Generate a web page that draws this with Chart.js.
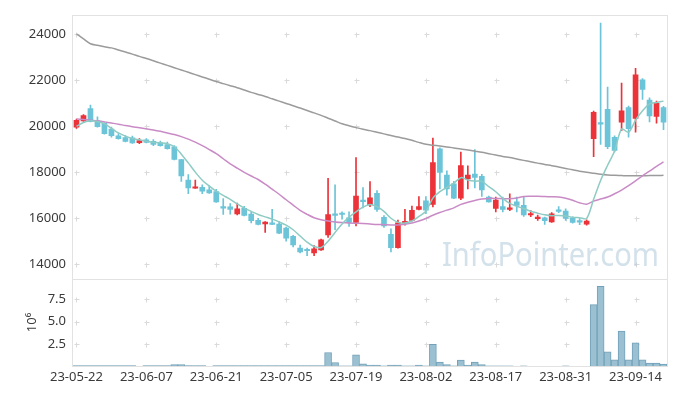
<!DOCTYPE html>
<html>
<head>
<meta charset="utf-8">
<script src="https://cdn.jsdelivr.net/npm/chart.js@4.4.0/dist/chart.umd.min.js"></script>
<style>
  html, body { margin: 0; padding: 0; background: #fff; }
  #wrap { width: 677px; height: 396px; }
</style>
</head>
<body>
<div id="wrap"><canvas id="myChart"></canvas></div>
<script>
const dates = [
  "23-05-22","23-05-23","23-05-24","23-05-25","23-05-26","23-05-30","23-05-31","23-06-01","23-06-02","23-06-05",
  "23-06-07","23-06-08","23-06-09","23-06-12","23-06-13","23-06-14","23-06-15","23-06-16","23-06-19","23-06-20",
  "23-06-21","23-06-22","23-06-23","23-06-26","23-06-27","23-06-28","23-06-29","23-06-30","23-07-03","23-07-04",
  "23-07-05","23-07-06","23-07-07","23-07-10","23-07-11","23-07-12","23-07-13","23-07-14","23-07-17","23-07-18",
  "23-07-19","23-07-20","23-07-21","23-07-24","23-07-25","23-07-26","23-07-27","23-07-28","23-07-31","23-08-01",
  "23-08-02","23-08-03","23-08-04","23-08-07","23-08-08","23-08-09","23-08-10","23-08-11","23-08-14","23-08-16",
  "23-08-17","23-08-18","23-08-21","23-08-22","23-08-23","23-08-24","23-08-25","23-08-28","23-08-29","23-08-30",
  "23-08-31","23-09-01","23-09-04","23-09-05","23-09-06","23-09-07","23-09-08","23-09-11","23-09-12","23-09-13",
  "23-09-14","23-09-15","23-09-18","23-09-19","23-09-20"
];

const open = [
  19950,20220,20760,20220,20120,19870,19570,19500,19490,19280,
  19400,19340,19270,19200,19100,18540,17660,17300,17340,17230,
  17160,16480,16490,16190,16430,16180,15910,15750,15800,15750,
  15570,15210,14700,14610,14500,14620,15280,16190,16220,16020,
  15820,16790,16580,17080,16040,15300,14720,15780,15900,16380,
  16750,16600,19010,17870,17490,16870,17700,17910,17820,16920,
  16420,16510,16380,16710,16560,16140,15980,16020,15840,16340,
  16310,16020,15860,15740,19450,20150,20720,19510,20170,20800,
  20330,22000,21120,20420,20800
];
const high = [
  20300,20500,20910,20400,20150,19950,19670,19580,19560,19450,
  19450,19410,19350,19300,19150,18560,17890,17660,17450,17400,
  17250,16850,16630,16660,16520,16280,15990,15850,16390,15850,
  15620,15260,14840,14710,14810,15100,17730,17450,16280,16280,
  18630,17330,17590,17200,16120,15540,15920,16390,16530,16940,
  16940,19480,19050,18060,17600,18870,18270,18980,17900,16960,
  16920,16920,17060,16920,16920,16330,16140,16050,16240,16500,
  16410,16060,15980,15930,20650,24470,21690,19570,21860,20870,
  22500,22060,21220,21080,20850
];
const low = [
  19900,20200,20180,19950,19650,19520,19430,19310,19250,19230,
  19270,19150,19130,19000,18530,17600,17060,17290,17060,17080,
  16690,16160,16180,16140,16100,15800,15710,15380,15720,15330,
  15000,14750,14490,14380,14380,14600,15170,15500,15960,15640,
  15670,16450,16500,16300,15600,14540,14700,15700,15880,16360,
  16200,16490,17270,17000,16850,16800,17270,17320,16950,16700,
  16270,16270,16330,16270,16080,16070,15900,15730,15820,16240,
  15900,15780,15720,15700,18670,19200,19020,18880,19800,19520,
  19730,21150,20180,20120,19840
];
const close = [
  20250,20450,20200,19970,19670,19580,19450,19330,19270,19370,
  19290,19200,19150,19020,18550,17840,17320,17350,17170,17100,
  16710,16440,16380,16410,16120,15890,15730,15830,15730,15350,
  15140,14840,14540,14590,14670,15060,16160,16120,16160,15820,
  16960,16720,16890,16380,15670,14720,15800,15860,16340,16510,
  16350,18410,17990,17270,16870,18280,17870,17770,17230,16710,
  16790,16380,16450,16560,16140,16180,16000,15890,16190,16300,
  15990,15820,15830,15880,20590,20080,19100,18940,20660,19880,
  22220,21590,20440,20980,20170
];

// moving averages
const ma5 = [
  19990,20150,20230,20200,20100,19900,19700,19560,19460,19400,
  19340,19300,19270,19230,19100,18780,18400,18000,17650,17400,
  17170,16990,16820,16620,16440,16300,16160,16060,15960,15840,
  15700,15500,15230,14960,14770,14730,15000,15380,15750,16050,
  16280,16480,16600,16500,16300,16000,15820,15790,15880,16080,
  16300,16870,17150,17340,17520,17760,17660,17610,17600,17370,
  17150,16860,16640,16520,16420,16300,16220,16150,16110,16120,
  16100,16040,16020,15990,16820,17640,18300,18920,19870,19730,
  20250,20660,20960,21020,21080
];
const ma20 = [
  20310,20280,20250,20230,20180,20130,20080,20020,19970,19930,
  19880,19830,19770,19700,19630,19540,19430,19300,19150,18980,
  18800,18580,18360,18170,17990,17830,17680,17480,17260,17040,
  16800,16570,16340,16170,16020,15930,15880,15840,15810,15790,
  15780,15770,15750,15730,15720,15710,15710,15740,15790,15880,
  15990,16130,16250,16350,16450,16600,16690,16770,16830,16860,
  16860,16850,16850,16880,16940,16950,16950,16940,16930,16920,
  16870,16780,16670,16610,16740,16830,16920,17060,17220,17410,
  17620,17840,18040,18250,18440
];
const ma120 = [
  24000,23780,23570,23500,23440,23390,23300,23210,23120,23020,
  22930,22830,22730,22630,22530,22430,22330,22230,22130,22030,
  21930,21840,21750,21660,21560,21460,21370,21280,21180,21080,
  20980,20880,20780,20670,20570,20460,20340,20220,20100,20010,
  19930,19860,19800,19730,19660,19590,19520,19460,19380,19290,
  19210,19170,19130,19090,19050,19000,18960,18910,18860,18800,
  18740,18680,18630,18570,18510,18450,18390,18330,18280,18220,
  18160,18100,18040,17990,17950,17910,17880,17860,17850,17840,
  17840,17840,17850,17850,17860
];

const volume = [
  80000,80000,80000,80000,80000,80000,80000,80000,80000,0,
  90000,90000,90000,90000,190000,190000,100000,80000,80000,0,
  80000,80000,80000,80000,80000,80000,80000,80000,80000,80000,
  80000,80000,80000,80000,80000,80000,1560000,440000,60000,60000,
  1300000,300000,150000,150000,70000,150000,150000,70000,70000,150000,
  70000,2480000,480000,190000,70000,700000,150000,480000,190000,70000,
  70000,60000,60000,0,70000,0,0,0,0,0,
  70000,0,0,0,6930000,8960000,1630000,740000,3960000,740000,
  2630000,740000,370000,370000,260000
];

const priceTicks = [14000, 16000, 18000, 20000, 22000, 24000];
const volTicks = [2500000, 5000000, 7500000];

const RED = "#ec3339";
const BLUE = "#6cc4d8";
const candleColors = open.map((o, i) => (close[i] >= o ? RED : BLUE));
const textColor = "#3a3a3a";
const font = { family: "'Noto Sans', sans-serif", size: 13 };

const frame = {
  id: "frame",
  beforeDatasetsDraw(chart) {
    const { ctx, scales } = chart;
    ctx.save();
    // grid crosses
    ctx.strokeStyle = "#dadada";
    ctx.lineWidth = 1;
    const xs = scales.x.ticks.map((t, i) => Math.round(scales.x.getPixelForTick(i)) + 0.5);
    const ys = priceTicks.map(v => scales.y.getPixelForValue(v))
      .concat(volTicks.map(v => scales.vol.getPixelForValue(v)))
      .map(v => Math.round(v) + 0.5);
    ctx.beginPath();
    xs.forEach(x => ys.forEach(y => {
      ctx.moveTo(x - 2, y); ctx.lineTo(x + 3, y);
      ctx.moveTo(x, y - 2); ctx.lineTo(x, y + 3);
    }));
    ctx.stroke();
    // watermark
    ctx.font = "32px 'Noto Sans', sans-serif";
    ctx.fillStyle = "rgba(175,200,216,0.55)";
    ctx.textBaseline = "alphabetic";
    const txt = "InfoPointer.com";
    const w = ctx.measureText(txt).width;
    ctx.translate(442, 266);
    ctx.scale(217 / w, 1);
    ctx.fillText(txt, 0, 0);
    ctx.restore();
  },
  afterDraw(chart) {
    const { ctx, chartArea: a, scales } = chart;
    ctx.save();
    ctx.strokeStyle = "#e2e2e2";
    ctx.lineWidth = 1;
    const l = Math.round(a.left) - 0.5, r = Math.round(a.right) + 0.5;
    const t = Math.round(a.top) + 0.5, b = Math.round(a.bottom) + 0.5;
    ctx.strokeRect(l, t, r - l, b - t);
    const m = Math.round(scales.y.bottom) + 0.5;
    ctx.beginPath();
    ctx.moveTo(l, m); ctx.lineTo(r, m);
    ctx.stroke();
    ctx.restore();
  }
};

const ctx = document.getElementById("myChart").getContext("2d");
const myChart = new Chart(ctx, {
  type: "bar",
  data: {
    labels: dates,
    datasets: [
      {
        type: "line", data: ma5, borderColor: "#8ecbc4", borderWidth: 1.5,
        pointRadius: 0, tension: 0.3, yAxisID: "y"
      },
      {
        type: "line", data: ma20, borderColor: "#c98bc6", borderWidth: 1.5,
        pointRadius: 0, tension: 0.3, yAxisID: "y"
      },
      {
        type: "line", data: ma120, borderColor: "#9b9b9b", borderWidth: 1.5,
        pointRadius: 0, tension: 0.3, yAxisID: "y"
      },
      {
        data: open.map((o, i) => [o, close[i]]),
        backgroundColor: candleColors,
        barThickness: 5, minBarLength: 1.5, grouped: false, yAxisID: "y"
      },
      {
        data: low.map((l, i) => [l, high[i]]),
        backgroundColor: candleColors,
        barThickness: 1, grouped: false, yAxisID: "y"
      },
      {
        data: volume,
        backgroundColor: "#9bc0d1",
        borderColor: "#72a1b9",
        borderWidth: 1,
        categoryPercentage: 1, barPercentage: 1, grouped: false, yAxisID: "vol"
      }
    ]
  },
  plugins: [frame],
  options: {
    responsive: true,
    maintainAspectRatio: false,
    animation: false,
    events: [],
    layout: { autoPadding: false, padding: { top: 10, right: 10, bottom: 8, left: 0 } },
    plugins: { legend: { display: false }, tooltip: { enabled: false } },
    scales: {
      x: {
        type: "category",
        offset: true,
        grid: { display: false, drawTicks: false },
        border: { display: false },
        afterBuildTicks: s => { s.ticks = s.ticks.filter(t => t.value % 10 === 0); },
        ticks: { autoSkip: false, maxRotation: 0, minRotation: 0, padding: 3, color: textColor, font }
      },
      y: {
        position: "left",
        stack: "main",
        stackWeight: 3,
        weight: 1,
        min: 13385,
        max: 24825,
        grid: { display: false, drawTicks: false },
        border: { display: false },
        afterFit: s => { s.width = 73; },
        afterBuildTicks: s => { s.ticks = priceTicks.map(v => ({ value: v })); },
        ticks: { padding: 7, color: textColor, font, callback: v => String(v) }
      },
      vol: {
        position: "left",
        stack: "main",
        stackWeight: 1,
        weight: 0,
        min: 0,
        max: 9850000,
        grid: { display: false, drawTicks: false },
        border: { display: false },
        afterFit: s => { s.width = 73; },
        afterBuildTicks: s => { s.ticks = volTicks.map(v => ({ value: v })); },
        title: { display: true, text: "10⁶", color: textColor, font, padding: { top: 24, bottom: 0 } },
        ticks: { padding: 7, color: textColor, font, callback: v => (v / 1e6).toFixed(1) }
      }
    }
  }
});
</script>
</body>
</html>
